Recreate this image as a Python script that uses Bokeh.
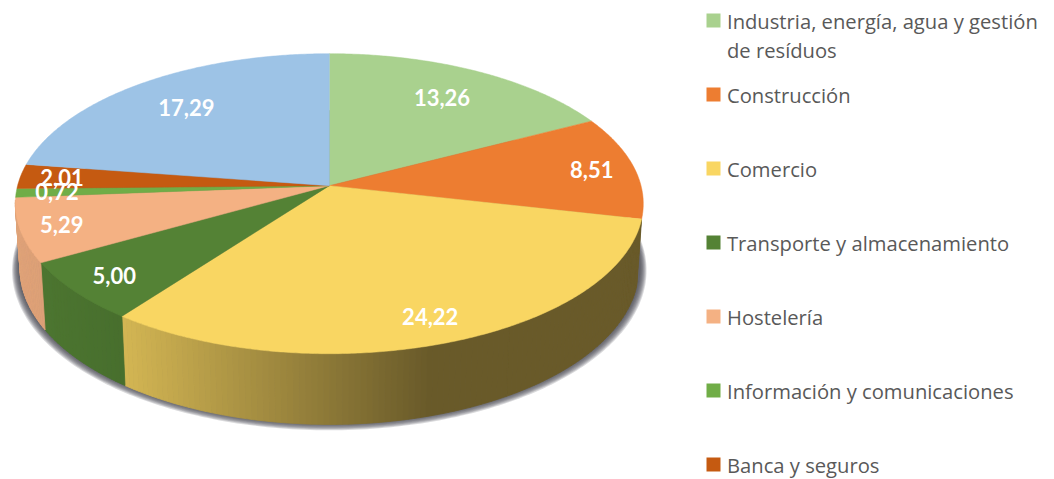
import numpy as np
from bokeh.plotting import figure
from bokeh.models import Range1d
from bokeh.core.properties import value
from bokeh.embed import file_html
from bokeh.resources import INLINE

# ---- data ----
values = [13.26, 8.51, 24.22, 5.00, 5.29, 0.72, 2.01, 17.29]
value_labels = ["13,26", "8,51", "24,22", "5,00", "5,29", "0,72", "2,01", "17,29"]
colors = ["#A9D18E", "#ED7D31", "#F9D662", "#548235", "#F4B183", "#70AD47", "#C55A11", "#9DC3E6"]
legend_names = ["Industria, energía, agua y gestión\nde resíduos", "Construcción", "Comercio",
                "Transporte y almacenamiento", "Hostelería", "Información y comunicaciones",
                "Banca y seguros"]
legend_colors = colors[:7]
label_radius = [0.75, 0.86, 0.85, 0.855, 0.87, 0.87, 0.865, 0.75]

# ---- layout (page pixels) ----
CX, CY, R, S, A = 328.8, 185.2, 311.7, 147.84, 0.12
DEPTH, BX, BY = 64.0, 0.985, 1.04


def project(theta, f=1.0):
    """Disc position (clockwise from 12 o'clock, radians) to page position in perspective."""
    u, v = np.sin(theta) * f, np.cos(theta) * f
    d = 1 + A * v
    return CX + R * u / d, CY - S * v / d


def bottom(theta, grow=0.0, drop=0.0):
    x, y = project(theta)
    return CX + (x - CX) * (BX + grow), CY + (y - CY) * (BY + grow) + DEPTH + drop


def rgb(hexc, k=1.0):
    c = [int(hexc[i:i + 2], 16) for i in (1, 3, 5)]
    return "#%02x%02x%02x" % tuple(int(round(min(255, x * k))) for x in c)


p = figure(width=1054, height=479, output_backend="svg", toolbar_location=None,
           x_range=Range1d(0, 1054), y_range=Range1d(479, 0), min_border=0)
p.xaxis.visible = False
p.yaxis.visible = False
p.xgrid.visible = False
p.ygrid.visible = False
p.outline_line_color = None
p.background_fill_color = "white"
p.border_fill_color = "white"

frac = np.array(values) / sum(values)
edges = np.concatenate([[0], np.cumsum(frac)]) * 2 * np.pi
full = np.linspace(0, 2 * np.pi, 361)

# soft shadow under the disc
for k in range(8, 0, -1):
    x, y = bottom(full, grow=0.0028 * k + 0.003, drop=0.45 * k - 2)
    p.patch(x, y, fill_color="#45454f", fill_alpha=0.2, line_color=None)

# side wall, drawn as narrow strips so the shading follows the position
xs, ys, fc = [], [], []
for i, col in enumerate(colors):
    n = max(2, int(np.degrees(edges[i + 1] - edges[i])))
    t = np.linspace(edges[i], edges[i + 1], n + 1)
    for a, b in zip(t[:-1], t[1:]):
        if np.cos((a + b) / 2) > -0.1 or i == 1:
            continue
        x1, y1 = project(np.array([a, b]))
        x2, y2 = bottom(np.array([b, a]))
        xs.append(list(x1) + list(x2))
        ys.append(list(y1) + list(y2))
        k = np.interp((x1[0] + x1[1]) / 2, [15, 122, 430, 650], [0.92, 0.85, 0.42, 0.42])
        fc.append(rgb(col, k))
p.patches(xs, ys, fill_color=fc, line_color=fc, line_width=0.8)

# top face
for i, col in enumerate(colors):
    n = max(3, int(np.degrees(edges[i + 1] - edges[i])) * 2)
    t = np.linspace(edges[i], edges[i + 1], n + 1)
    x, y = project(t)
    p.patch([CX] + list(x), [CY] + list(y), fill_color=col, line_color=col, line_width=0.5)

# value labels
mid = (edges[:-1] + edges[1:]) / 2
lx, ly = zip(*[project(m, f) for m, f in zip(mid, label_radius)])
p.text(list(lx), list(ly), text=value_labels, text_color="white", text_font=value("Lato"),
       text_font_style="bold", text_font_size="22px", text_align="center", text_baseline="middle")

# legend
LEG_X, LEG_TOP, LEG_STEP, LINE_STEP, BOX = 713.0, 20.0, 74.0, 29.0, 14.0
rows = LEG_TOP + LEG_STEP * np.arange(len(legend_names))
p.rect([LEG_X] * len(rows), rows, width=BOX, height=BOX, fill_color=legend_colors, line_color=None)
tx, ty, tt = [], [], []
for name, yy in zip(legend_names, rows):
    for j, line in enumerate(name.split("\n")):
        tx.append(LEG_X + 13.5)
        ty.append(yy + j * LINE_STEP)
        tt.append(line)
p.text(tx, ty, text=tt, text_color="#595959", text_font=value("Open Sans"),
       text_font_size="20.2px", text_align="left", text_baseline="middle")

open("out.html", "w").write(file_html(p, INLINE))
